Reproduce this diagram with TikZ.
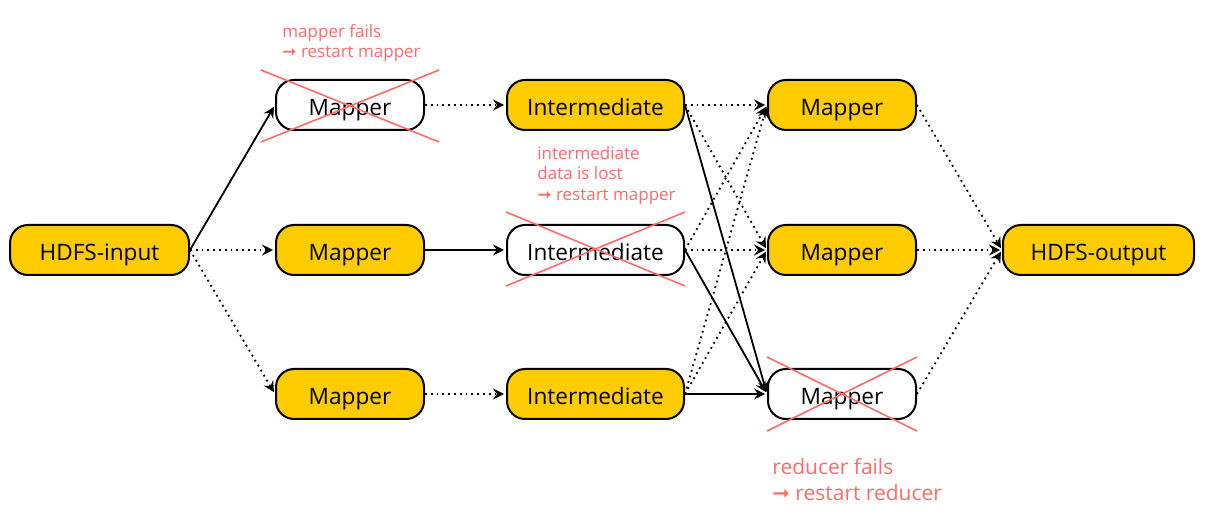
\documentclass[tikz,border=0pt]{standalone}
\usepackage{fontspec}
\setmainfont{Open Sans}
\newfontfamily\arrowfont{DejaVu Sans}
\usetikzlibrary{arrows.meta}
\definecolor{stageyellow}{HTML}{FFCC00}
\definecolor{failred}{HTML}{FF6B6B}

\begin{document}
\begin{tikzpicture}[x=0.5pt,y=-0.5pt,
  stage/.style={draw,line width=1pt,rounded corners=9pt,fill=stageyellow,minimum height=25pt,inner sep=0pt,text height=11pt,text depth=0pt,font=\fontsize{11.3}{13}\selectfont},
  failed/.style={stage,fill=white},
  note/.style={text=failred,anchor=north west,align=left,inner sep=0pt,font=\fontsize{8.5}{10.2}\selectfont},
  cross/.style={failred,line width=0.8pt},
  flow/.style={-{Stealth[length=5.5pt,width=5.5pt,inset=2pt]},line width=0.9pt,shorten >=1pt},
  lost/.style={flow,dotted}]
\useasboundingbox (0,0) rectangle (1205,523);
\node[stage,minimum width=89.5pt] (hin) at (99.5,250) {HDFS-input};
\node[failed,minimum width=74pt] (m1) at (350,105) {Mapper};
\node[stage,minimum width=74pt] (m2) at (350,250) {Mapper};
\node[stage,minimum width=74pt] (m3) at (350,394) {Mapper};
\node[stage,minimum width=88.5pt] (i1) at (595.5,105) {Intermediate};
\node[failed,minimum width=88.5pt] (i2) at (595.5,250) {Intermediate};
\node[stage,minimum width=88.5pt] (i3) at (595.5,394) {Intermediate};
\node[stage,minimum width=74pt] (r1) at (842,105) {Mapper};
\node[stage,minimum width=74pt] (r2) at (842,250) {Mapper};
\node[failed,minimum width=74pt] (r3) at (842,394) {Mapper};
\node[stage,minimum width=95.5pt] (hout) at (1098.5,250) {HDFS-output};
\draw[flow] (hin.east) -- (m1.west);
\draw[lost] (hin.east) -- (m2.west);
\draw[lost] (hin.east) -- (m3.west);
\draw[lost] (m1.east) -- (i1.west);
\draw[flow] (m2.east) -- (i2.west);
\draw[lost] (m3.east) -- (i3.west);
\draw[lost] (i1.east) -- (r1.west);
\draw[lost] (i1.east) -- (r2.west);
\draw[flow] (i1.east) -- (r3.west);
\draw[lost] (i2.east) -- (r1.west);
\draw[lost] (i2.east) -- (r2.west);
\draw[flow] (i2.east) -- (r3.west);
\draw[lost] (i3.east) -- (r1.west);
\draw[lost] (i3.east) -- (r2.west);
\draw[flow] (i3.east) -- (r3.west);
\draw[lost] (r1.east) -- (hout.west);
\draw[lost] (r2.east) -- (hout.west);
\draw[lost] (r3.east) -- (hout.west);
\draw[cross] ([xshift=-7pt,yshift=4.5pt]m1.north west) -- ([xshift=7pt,yshift=-5.5pt]m1.south east);
\draw[cross] ([xshift=-7pt,yshift=-5.5pt]m1.south west) -- ([xshift=7pt,yshift=4.5pt]m1.north east);
\draw[cross] ([yshift=6pt]i2.north west) -- ([yshift=-5pt]i2.south east);
\draw[cross] ([yshift=-5pt]i2.south west) -- ([yshift=6pt]i2.north east);
\draw[cross] ([yshift=5.5pt]r3.north west) -- ([yshift=-5.5pt]r3.south east);
\draw[cross] ([yshift=-5.5pt]r3.south west) -- ([yshift=5.5pt]r3.north east);
\node[note] (mapnote) at (282,24) {mapper fails\\{\arrowfont ➞} restart mapper};
\node[note] (intnote) at (537,146) {intermediate\\data is lost\\{\arrowfont ➞} restart mapper};
\node[note,font=\fontsize{10.5}{13}\selectfont] (rednote) at (772,458) {reducer fails\\{\arrowfont ➞} restart reducer};
\end{tikzpicture}
\end{document}
